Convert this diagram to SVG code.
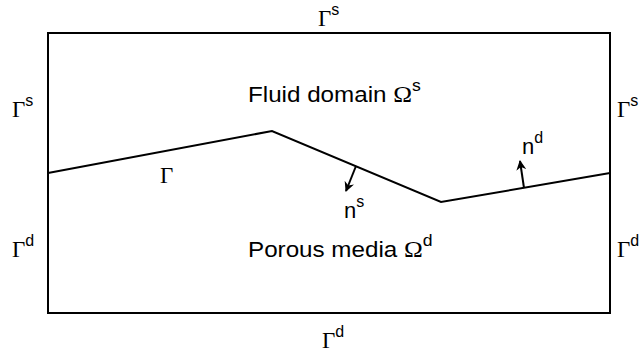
<svg xmlns="http://www.w3.org/2000/svg" width="643" height="358" viewBox="0 0 643 358">
<style>
.ln{fill:none;stroke:#000;stroke-width:2}
.ar{fill:none;stroke:#000;stroke-width:2}
.g{font-family:"Liberation Serif",serif;font-size:23px;fill:#000}
.s{font-family:"Liberation Sans",sans-serif;font-size:22px;fill:#000}
.sup{font-family:"Liberation Sans",sans-serif;font-size:16px;fill:#000}
</style>
<defs>
<marker id="ah" viewBox="0 0 10 10" refX="9" refY="5" markerWidth="5" markerHeight="5" orient="auto" markerUnits="strokeWidth">
<path d="M0,0 L10,5 L0,10 L3,5 Z" fill="#000"/>
</marker>
</defs>
<g id="domain">
<rect class="ln" x="48" y="33" width="562" height="280"/>
</g>
<g id="interface">
<polyline class="ln" points="48,173 272,131 441,202 610,173"/>
</g>
<g id="connectors">
<line class="ar" x1="356" y1="166" x2="346" y2="191" marker-end="url(#ah)"/>
<line class="ar" x1="524" y1="188" x2="520" y2="161" marker-end="url(#ah)"/>
</g>
<g id="labels">
<text class="g" x="318" y="26">Γ<tspan class="sup" dy="-11">s</tspan></text>
<text class="g" x="12" y="117">Γ<tspan class="sup" dy="-11">s</tspan></text>
<text class="g" x="12" y="257">Γ<tspan class="sup" dy="-11">d</tspan></text>
<text class="g" x="617" y="117">Γ<tspan class="sup" dy="-11">s</tspan></text>
<text class="g" x="617" y="257">Γ<tspan class="sup" dy="-11">d</tspan></text>
<text class="g" x="322" y="348">Γ<tspan class="sup" dy="-11">d</tspan></text>
<text class="g" x="160" y="183">Γ</text>
<text class="s" transform="translate(248,102) scale(1.1,1)" x="0" y="0">Fluid domain <tspan class="g" font-size="22px">Ω</tspan><tspan class="sup" dy="-11">s</tspan></text>
<text class="s" transform="translate(248,257) scale(1.1,1)" x="0" y="0">Porous media <tspan class="g" font-size="22px">Ω</tspan><tspan class="sup" dy="-11">d</tspan></text>
<text class="s" x="344" y="218">n<tspan class="sup" dy="-11">s</tspan></text>
<text class="s" x="522" y="154">n<tspan class="sup" dy="-11">d</tspan></text>
</g>
</svg>
